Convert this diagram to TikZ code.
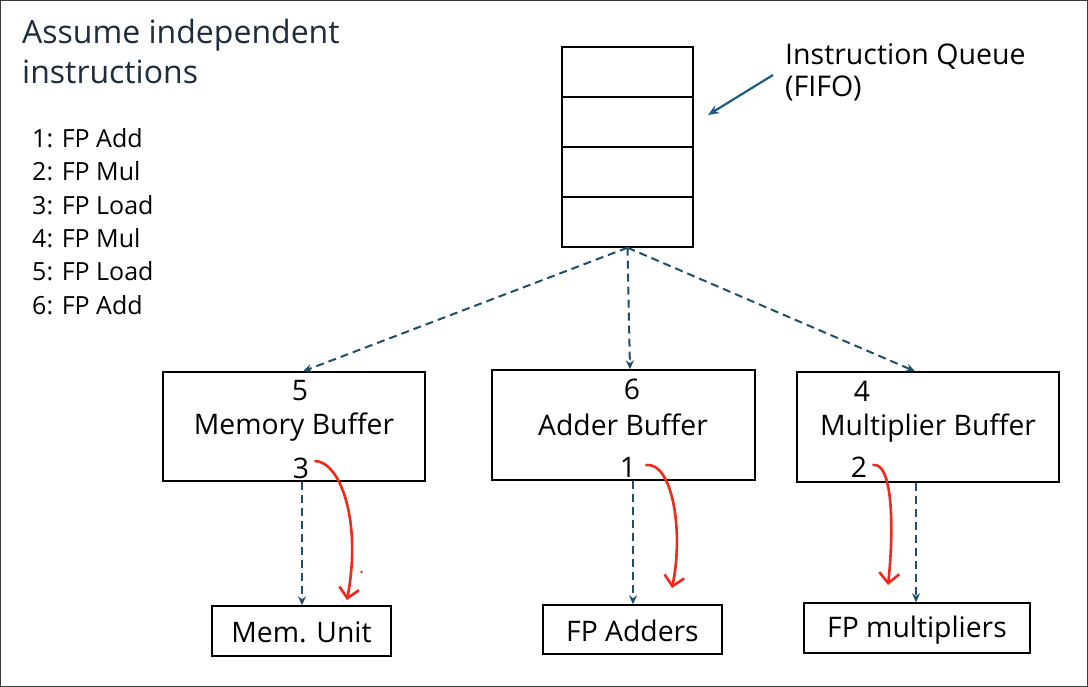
\documentclass[tikz,border=0pt]{standalone}
\usepackage{fontspec}
\setmainfont{Open Sans}
\usetikzlibrary{arrows.meta}
\definecolor{titlec}{HTML}{1E2D3D}
\definecolor{dashc}{HTML}{1F4F6B}
\definecolor{arrc}{HTML}{1F5F82}
\definecolor{redc}{HTML}{F02A1A}
\definecolor{framec}{HTML}{3A3A3A}
\tikzset{
  boxc/.style={draw=black, line width=1.4pt},
  lbl/.style={font=\fontsize{28.3}{32}\selectfont, text=black, inner sep=0pt},
  lst/.style={font=\fontsize{25}{28}\selectfont, text=black, inner sep=0pt, anchor=west},
  dsh/.style={draw=dashc, line width=2pt, dash pattern=on 8pt off 5pt, -{Stealth[length=9pt,width=8pt]}},
  redarr/.style={draw=redc, line width=2.6pt, line cap=round, -{Straight Barb[length=10pt,width=20pt,line width=2.6pt]}}
}
\begin{document}
\begin{tikzpicture}[x=1pt,y=-1pt]
\useasboundingbox (0,0) rectangle (1088,687);
\draw[framec, line width=1.2pt] (0.6,0.6) rectangle (1087.4,686.4);
% title
\node[anchor=west, inner sep=0pt, text=titlec, font=\fontsize{32}{40}\selectfont, align=left] (title) at (22,52) {Assume independent\\instructions};
% list
\node[lst] (l1) at (32,138) {1: FP Add};
\node[lst] (l2) at (32,171.4) {2: FP Mul};
\node[lst] (l3) at (32,204.8) {3: FP Load};
\node[lst] (l4) at (32,238.2) {4: FP Mul};
\node[lst] (l5) at (32,271.6) {5: FP Load};
\node[lst] (l6) at (32,305) {6: FP Add};
% queue
\node[boxc, minimum width=131pt, minimum height=200pt, inner sep=0pt] (q) at (627.5,147) {};
\draw[black, line width=1.3pt] (562,97) -- (693,97) (562,147) -- (693,147) (562,197) -- (693,197);
\node[lbl, anchor=west, align=left, font=\fontsize{28.5}{32}\selectfont] (ql) at (785,72) {Instruction Queue\\(FIFO)};
\coordinate (qa) at (773,75);
\draw[arrc, line width=2.2pt, -{Stealth[length=11pt,width=9pt]}] (qa) -- (708,115);
% buffers
\node[boxc, minimum width=262pt, minimum height=109pt, inner sep=0pt] (mb) at (294,426.5) {};
\node[boxc, minimum width=263pt, minimum height=110pt, inner sep=0pt] (ab) at (623.5,425) {};
\node[boxc, minimum width=262pt, minimum height=110pt, inner sep=0pt] (xb) at (928,427) {};
\node[lbl] (m5) at (300,391) {5};
\node[lbl] (mt) at (294,427) {Memory Buffer};
\node[lbl] (m3) at (301,468) {3};
\node[lbl] (a6) at (632,389) {6};
\node[lbl] (at) at (623,425) {Adder Buffer};
\node[lbl] (a1) at (628,467) {1};
\node[lbl] (x4) at (862,391) {4};
\node[lbl] (xt) at (928,428) {Multiplier Buffer};
\node[lbl] (x2) at (859,467) {2};
% units
\node[boxc, minimum width=179pt, minimum height=50pt, inner sep=0pt] (mu) at (301.5,631) {};
\node[lbl] (mut) at (301.5,632) {Mem. Unit};
\node[boxc, minimum width=179pt, minimum height=49pt, inner sep=0pt] (fa) at (632.5,629.5) {};
\node[lbl] (fat) at (632.5,630.5) {FP Adders};
\node[boxc, minimum width=226pt, minimum height=50pt, inner sep=0pt] (fm) at (917,628) {};
\node[lbl] (fmt) at (917,630) {FP multipliers};
% dashed arrows from queue
\draw[dsh] (q.south) -- ([xshift=9pt]mb.north);
\draw[dsh] (q.south) -- ([xshift=6.5pt]ab.north);
\draw[dsh] (q.south) -- ([xshift=-13pt]xb.north);
% dashed arrows down
\draw[dsh] ([xshift=8pt]mb.south) -- ([xshift=0.5pt]mu.north);
\draw[dsh] ([xshift=9.5pt]ab.south) -- ([xshift=0.5pt]fa.north);
\draw[dsh] ([xshift=-12pt]xb.south) -- ([xshift=-1pt]fm.north);
% red arrows
\draw[redarr] ([xshift=6pt,yshift=7pt]m3.east) .. controls (340,462) and (362,520) .. (347,600);
\draw[redarr] ([xshift=10pt,yshift=2pt]a1.east) .. controls (672,462) and (684,530) .. (672,588);
\draw[redarr] ([xshift=6pt,yshift=2pt]x2.east) .. controls (893,462) and (894,530) .. (888,585);
\fill[redc] (361.5,572) circle (1.3pt);
\end{tikzpicture}
\end{document}
